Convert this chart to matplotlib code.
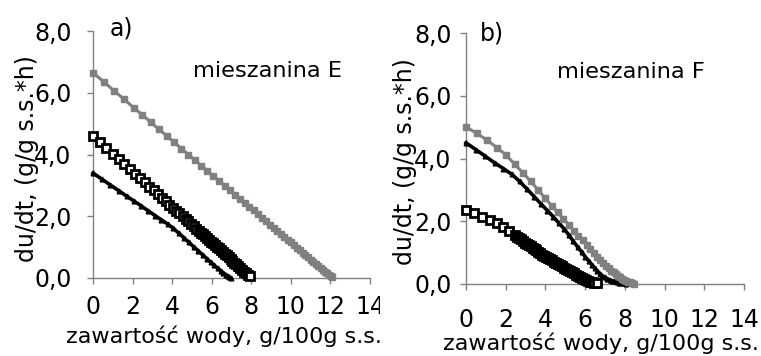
import matplotlib
matplotlib.use('Agg')
import matplotlib.pyplot as plt
from matplotlib.ticker import FuncFormatter
from matplotlib.patches import Rectangle

plt.rcParams['font.family'] = ['DejaVu Sans']

# ---------------- data: panel a (mieszanina E) ----------------
a_gray_x = [0, 0.55, 1.07, 1.57, 2.05, 2.5, 2.93, 3.34, 3.73, 4.11, 4.47, 4.82, 5.15, 5.47,
            5.78, 6.08, 6.37, 6.65, 6.92, 7.18, 7.43, 7.67, 7.9, 8.12, 8.34, 8.55, 8.75, 8.95,
            9.14, 9.32, 9.5, 9.67, 9.84, 10.0, 10.16, 10.31, 10.46, 10.6, 10.74, 10.88, 11.01,
            11.14, 11.26, 11.38, 11.5, 11.61, 11.72, 11.82, 11.92, 12.02, 12.1]
a_gray_y = [6.65, 6.35, 6.06, 5.79, 5.52, 5.28, 5.04, 4.81, 4.60, 4.39, 4.19, 4.00, 3.82, 3.64,
            3.47, 3.31, 3.15, 2.99, 2.85, 2.70, 2.57, 2.43, 2.31, 2.19, 2.07, 1.95, 1.84, 1.73,
            1.63, 1.53, 1.43, 1.33, 1.24, 1.15, 1.06, 0.98, 0.90, 0.82, 0.74, 0.67, 0.59,
            0.52, 0.46, 0.39, 0.33, 0.27, 0.21, 0.15, 0.10, 0.05, 0.02]

a_tri_x = [0, 0.45, 0.88, 1.3, 1.7, 2.08, 2.45, 2.8, 3.14, 3.46, 3.77, 4.06, 4.34, 4.6, 4.85,
           5.09, 5.32, 5.54, 5.75, 5.95, 6.13, 6.3, 6.45, 6.58, 6.7, 6.8, 6.88, 6.95]
a_tri_y = [3.40, 3.20, 3.01, 2.83, 2.65, 2.49, 2.33, 2.17, 2.02, 1.88, 1.75, 1.61, 1.45, 1.30,
           1.15, 1.01, 0.88, 0.75, 0.63, 0.51, 0.41, 0.32, 0.24, 0.17, 0.11, 0.06, 0.03, 0.01]

a_sq_x = [0, 0.35, 0.68, 1.0, 1.3, 1.59, 1.87, 2.13, 2.38, 2.62, 2.85, 3.07, 3.28, 3.48, 3.67,
          3.86, 4.04, 4.21, 4.37, 4.53, 4.68, 4.82, 4.96, 5.09, 5.22, 5.34, 5.45,
          5.55, 5.65, 5.75, 5.85, 5.95, 6.05, 6.15, 6.25, 6.35, 6.45, 6.55, 6.65, 6.75, 6.85,
          6.95, 7.05, 7.15, 7.25, 7.35, 7.45, 7.55, 7.65, 7.75, 7.85, 7.93]
a_sq_y = [4.60, 4.40, 4.21, 4.03, 3.85, 3.69, 3.53, 3.38, 3.23, 3.10, 2.96, 2.84, 2.72, 2.60, 2.49,
          2.38, 2.28, 2.18, 2.09, 2.00, 1.91, 1.83, 1.75, 1.68, 1.60, 1.53, 1.47,
          1.41, 1.36, 1.30, 1.24, 1.18, 1.13, 1.07, 1.01, 0.96, 0.90, 0.84, 0.78, 0.73, 0.67,
          0.61, 0.55, 0.50, 0.44, 0.38, 0.32, 0.27, 0.21, 0.15, 0.09, 0.05]

# ---------------- data: panel b (mieszanina F) ----------------
b_gray_x = [0, 0.55, 1.07, 1.55, 2.0, 2.45, 2.87, 3.26, 3.63, 3.98, 4.31, 4.62, 4.91, 5.18,
            5.43, 5.66, 5.87, 6.07, 6.26, 6.44, 6.61, 6.77, 6.92, 7.06, 7.19, 7.32, 7.44,
            7.56, 7.67, 7.78, 7.88, 7.98, 8.08, 8.18, 8.28, 8.38, 8.48]
b_gray_y = [5.00, 4.80, 4.58, 4.35, 4.12, 3.82, 3.54, 3.27, 3.00, 2.74, 2.50, 2.28, 2.07, 1.88,
            1.70, 1.54, 1.39, 1.25, 1.12, 0.99, 0.87, 0.76, 0.66, 0.57, 0.50, 0.43, 0.37,
            0.31, 0.26, 0.21, 0.17, 0.13, 0.10, 0.07, 0.05, 0.03, 0.01]

b_tri_x = [0, 0.5, 0.98, 1.44, 1.88, 2.3, 2.7, 3.08, 3.44, 3.78, 4.1, 4.4, 4.68, 4.94, 5.18,
           5.41, 5.62, 5.82, 6.0, 6.17, 6.33, 6.48, 6.62, 6.75, 6.87, 6.99, 7.11, 7.23, 7.35,
           7.47, 7.59, 7.71, 7.83, 7.95, 8.05]
b_tri_y = [4.50, 4.28, 4.07, 3.86, 3.68, 3.50, 3.27, 3.02, 2.78, 2.55, 2.34, 2.14, 1.94, 1.76,
           1.56, 1.36, 1.18, 1.02, 0.87, 0.74, 0.62, 0.51, 0.41, 0.33, 0.26, 0.21, 0.17, 0.13,
           0.10, 0.08, 0.06, 0.04, 0.03, 0.02, 0.01]

b_sq_x = [0, 0.4, 0.8, 1.2, 1.55, 1.88, 2.18, 2.45,
          2.55, 2.65, 2.75, 2.85, 2.95, 3.05, 3.15, 3.25, 3.35, 3.45, 3.55, 3.65, 3.75, 3.85,
          3.95, 4.05, 4.15, 4.25, 4.35, 4.45, 4.55, 4.65, 4.75, 4.85, 4.95, 5.05, 5.15, 5.25,
          5.35, 5.45, 5.55, 5.65, 5.75, 5.85, 5.95, 6.05, 6.15, 6.25, 6.35, 6.45, 6.6]
b_sq_y = [2.35, 2.25, 2.14, 2.04, 1.94, 1.81, 1.68, 1.56,
          1.51, 1.47, 1.42, 1.37, 1.32, 1.28, 1.24, 1.20, 1.15, 1.11, 1.07, 1.03, 0.99, 0.94,
          0.90, 0.86, 0.82, 0.79, 0.75, 0.71, 0.67, 0.63, 0.60, 0.56, 0.52, 0.48, 0.45, 0.41,
          0.37, 0.34, 0.30, 0.27, 0.23, 0.19, 0.16, 0.13, 0.10, 0.07, 0.05, 0.04, 0.02]

x_ticks = [0, 2, 4, 6, 8, 10, 12, 14]
y_ticks = [0, 2, 4, 6, 8]
x_label = 'zawartość wody, g/100g s.s.'
y_label = 'du/dt, (g/g s.s.*h)'

GRAY = '#808080'
W, H = 761, 356

fig = plt.figure(figsize=(W / 100, H / 100), dpi=100)


def rect(x0, x14, y0, y8):
    return [x0 / W, 1 - y0 / H, (x14 - x0) / W, (y0 - y8) / H]


axa = fig.add_axes(rect(93, 370, 278, 31))
axb = fig.add_axes(rect(466, 744, 284, 33))
axa.set_zorder(0)
axb.set_zorder(3)
fig.add_artist(Rectangle((380 / W, 0), 1 - 380 / W, 1, transform=fig.transFigure,
                         facecolor='white', edgecolor='none', zorder=2))

fmt = FuncFormatter(lambda v, p: f'{v:.1f}'.replace('.', ','))


def style(ax, xpad, ypad):
    ax.set_xlim(0, 14)
    ax.set_ylim(0, 8)
    for s in ['top', 'right']:
        ax.spines[s].set_visible(False)
    for s in ['left', 'bottom']:
        ax.spines[s].set_color(GRAY)
        ax.spines[s].set_linewidth(1)
    ax.set_xticks(x_ticks)
    ax.set_yticks(y_ticks)
    ax.yaxis.set_major_formatter(fmt)
    ax.tick_params(axis='both', direction='out', length=4.5, width=1, color=GRAY,
                   labelsize=17, labelcolor='black')
    ax.tick_params(axis='x', pad=xpad)
    ax.tick_params(axis='y', pad=ypad)
    ax.patch.set_alpha(0)


def series(ax, sq, tri, gray):
    ax.plot(sq[0], sq[1], color='black', lw=1, marker='s', ms=5.8, mfc='white',
            mec='black', mew=2.0, clip_on=False, zorder=3)
    ax.plot(tri[0], tri[1], color='black', lw=2.6, marker='^', ms=3.4, mfc='black',
            mec='black', clip_on=False, zorder=4)
    ax.plot(gray[0], gray[1], color=GRAY, lw=2.2, marker='s', ms=3.8, mfc=GRAY,
            mec=GRAY, clip_on=False, zorder=5)


style(axa, 8, 11)
style(axb, 13, 6)
series(axa, (a_sq_x, a_sq_y), (a_tri_x, a_tri_y), (a_gray_x, a_gray_y))
series(axb, (b_sq_x, b_sq_y), (b_tri_x, b_tri_y), (b_gray_x, b_gray_y))

axa.text(0.86, 7.86, 'a)', fontsize=17, va='baseline', clip_on=False)
axa.text(5.05, 6.5, 'mieszanina E', fontsize=16.2, va='baseline')
axb.text(0.7, 7.77, 'b)', fontsize=17, va='baseline', clip_on=False)
axb.text(4.58, 6.56, 'mieszanina F', fontsize=16.2, va='baseline')

fig.text(224 / W, 1 - 343 / H, x_label, fontsize=16, ha='center', va='baseline', zorder=1)
fig.text(601 / W, 1 - 350 / H, x_label, fontsize=16, ha='center', va='baseline', zorder=4)
fig.text(27 / W, 1 - 159 / H, y_label, fontsize=17, ha='center', va='center',
         rotation=90, zorder=1)
fig.text(405 / W, 1 - 162 / H, y_label, fontsize=17, ha='center', va='center',
         rotation=90, zorder=4)

fig.savefig('out.png', dpi=100, facecolor='white')
